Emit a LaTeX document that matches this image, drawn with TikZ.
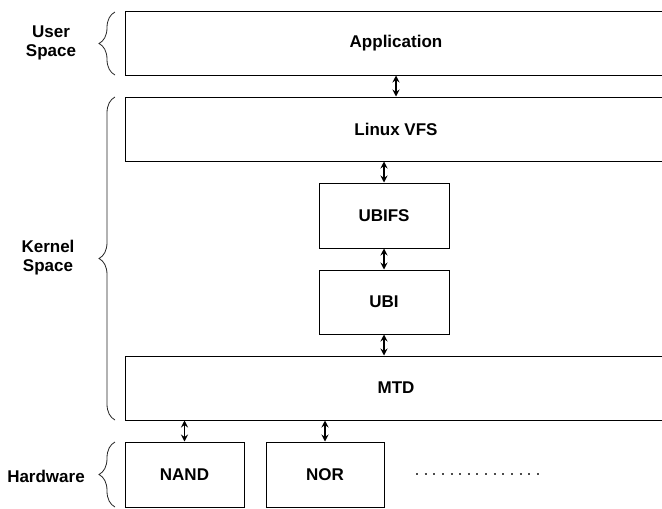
\documentclass[tikz,border=0pt]{standalone}
\usepackage{fontspec}
\setmainfont{Liberation Sans}
\usetikzlibrary{arrows.meta,decorations.pathreplacing}

\tikzset{
  layer/.style={draw=black, line width=1pt, inner sep=0pt, fill=white,
    font=\fontsize{17}{19}\selectfont\bfseries},
  dbl/.style={{Stealth[length=7pt,width=7pt,inset=2.5pt]}-{Stealth[length=7pt,width=7pt,inset=2.5pt]}, line width=1.1pt},
  bracket/.style={decorate, decoration={brace, amplitude=16pt}, line width=0.8pt, draw=black!85},
  sidelabel/.style={align=center, font=\fontsize{17}{19}\selectfont\bfseries}
}

\begin{document}
\begin{tikzpicture}[x=1pt, y=-1pt]
  \useasboundingbox (0,0) rectangle (662,509);
  \fill[white] (0,0) rectangle (662,509);
  \clip (0,0) rectangle (662,509);

  % software and hardware layers
  \node[layer, minimum width=542pt, minimum height=64pt] (app)   at (396,43)    {Application};
  \node[layer, minimum width=542pt, minimum height=64pt] (vfs)   at (396,129)   {Linux VFS};
  \node[layer, minimum width=130pt, minimum height=65pt] (ubifs) at (384,215.5) {UBIFS};
  \node[layer, minimum width=130pt, minimum height=64pt] (ubi)   at (384,302)   {UBI};
  \node[layer, minimum width=542pt, minimum height=64pt] (mtd)   at (396,388)   {MTD};
  \node[layer, minimum width=119pt, minimum height=65pt] (nand)  at (184.5,474.5) {NAND};
  \node[layer, minimum width=118pt, minimum height=65pt] (nor)   at (325,474.5) {NOR};

  % further devices
  \coordinate (more1) at (416,473.5);
  \coordinate (more2) at (541,473.5);
  \draw[line width=2pt, draw=black!70, dash pattern=on 2pt off 6.64pt] (more1) -- (more2);

  % data paths between layers
  \draw[dbl] (app.south) -- (vfs.north -| app.south);
  \draw[dbl] (vfs.south -| ubifs.north) -- (ubifs.north);
  \draw[dbl] (ubifs.south) -- (ubi.north);
  \draw[dbl] (ubi.south) -- (mtd.north -| ubi.south);
  \draw[dbl] (mtd.south -| nand.north) -- (nand.north);
  \draw[dbl] (mtd.south -| nor.north) -- (nor.north);

  % space braces
  \coordinate (u1) at (115,75);  \coordinate (u2) at (115,12);
  \coordinate (k1) at (115,420); \coordinate (k2) at (115,97);
  \coordinate (h1) at (115,507); \coordinate (h2) at (115,442);
  \draw[bracket] (u1) -- (u2);
  \draw[bracket] (k1) -- (k2);
  \draw[bracket] (h1) -- (h2);

  \node[sidelabel] (user)   at (51,43)  {User\\Space};
  \node[sidelabel] (kernel) at (48,258) {Kernel\\Space};
  \node[sidelabel] (hw)     at (46,476) {Hardware};
\end{tikzpicture}
\end{document}
